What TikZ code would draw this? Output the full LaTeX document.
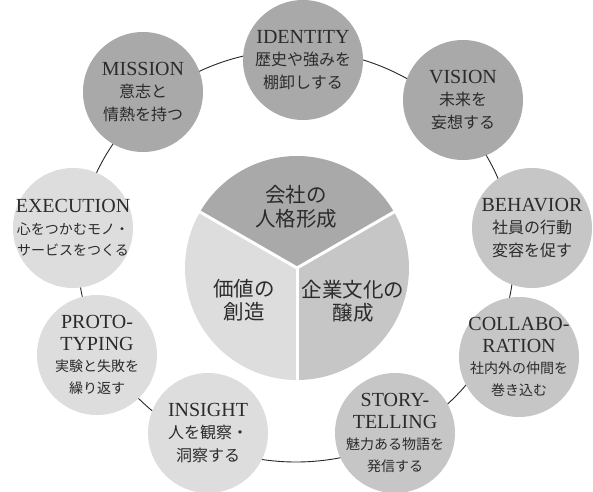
\documentclass[tikz,border=0pt]{standalone}
\usepackage{fontspec}
\setmainfont{Liberation Serif}
\newfontfamily\jpfont{Noto Sans CJK JP}
\definecolor{dk}{HTML}{A9A9A9}
\definecolor{md}{HTML}{C6C6C6}
\definecolor{lt}{HTML}{DDDDDD}
\definecolor{txtc}{HTML}{2B2B2B}
\newcommand\EN[1]{{\fontsize{20}{22}\selectfont #1}}
\newcommand\JA[1]{{\jpfont #1}}
\begin{document}
\begin{tikzpicture}[x=1pt,y=1pt,
  bub/.style={circle, minimum size=120pt, inner sep=0pt},
  lbl/.style={align=center, text=txtc, inner sep=0pt, font=\fontsize{16}{22.5}\selectfont},
  lbls/.style={lbl, font=\fontsize{14}{21.5}\selectfont},
  lblc/.style={lbl, font=\fontsize{20.5}{23.5}\selectfont}]
\useasboundingbox (0,0) rectangle (593,491);
% ring
\coordinate (ring) at (296,235);
\draw[line width=0.9pt, black!85] (ring) ellipse [x radius=218pt, y radius=206pt];
% central pie
\coordinate (pc) at (297,223);
\fill[dk] (pc) -- ++(30:112pt) arc[start angle=30,end angle=150,radius=112pt] -- cycle;
\fill[lt] (pc) -- ++(150:112pt) arc[start angle=150,end angle=270,radius=112pt] -- cycle;
\fill[md] (pc) -- ++(270:112pt) arc[start angle=270,end angle=390,radius=112pt] -- cycle;
\foreach \a in {30,150,270} \draw[white,line width=3pt] (pc) -- ++(\a:114pt);
\node[lblc] (t1) at (296,284) {\JA{会社の}\\\JA{人格形成}};
\node[lblc] (t2) at (244,191) {\JA{価値の}\\\JA{創造}};
\node[lblc] (t3) at (353,190) {\JA{企業文化の}\\\JA{醸成}};
% outer circles
\node[bub, fill=dk] (mission) at (143,399) {};
\node[bub, fill=dk] (identity) at (303,431) {};
\node[bub, fill=dk] (vision) at (463,391) {};
\node[bub, fill=md] (behavior) at (532,263) {};
\node[bub, fill=md] (collab) at (519,134) {};
\node[bub, fill=md] (story) at (395,58) {};
\node[bub, fill=lt] (insight) at (208,58) {};
\node[bub, fill=lt] (proto) at (97,136) {};
\node[bub, fill=lt] (execution) at (73,263) {};
% labels
\node[lbl] at (mission) {\EN{MISSION}\\\JA{意志と}\\\JA{情熱を持つ}};
\node[lbl] at (identity) {\EN{IDENTITY}\\\JA{歴史や強みを}\\\JA{棚卸しする}};
\node[lbl] at (vision) {\EN{VISION}\\\JA{未来を}\\\JA{妄想する}};
\node[lbl] at (behavior) {\EN{BEHAVIOR}\\\JA{社員の行動}\\\JA{変容を促す}};
\node[lbls] at (collab) {\EN{COLLABO-}\\\EN{RATION}\\\JA{社内外の仲間を}\\\JA{巻き込む}};
\node[lbls] at (story) {\EN{STORY-}\\\EN{TELLING}\\\JA{魅力ある物語を}\\\JA{発信する}};
\node[lbl] at (insight) {\EN{INSIGHT}\\\JA{人を観察・}\\\JA{洞察する}};
\node[lbls] at (proto) {\EN{PROTO-}\\\EN{TYPING}\\\JA{実験と失敗を}\\\JA{繰り返す}};
\node[lbls] at (execution) {\EN{EXECUTION}\\\JA{心をつかむモノ・}\\\JA{サービスをつくる}};
\end{tikzpicture}
\end{document}
